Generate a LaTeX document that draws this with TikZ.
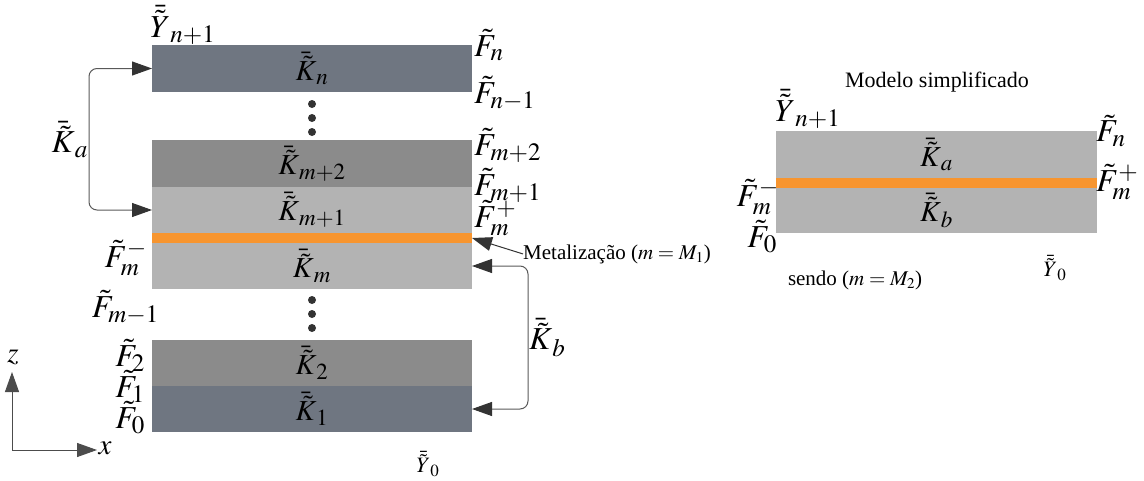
\documentclass[tikz,border=0pt]{standalone}
\usepackage{mathptmx}
\usepackage{fontspec}
\setmainfont{Liberation Serif}
\usepackage{xcolor}
\usepackage{tikz}
\usetikzlibrary{arrows.meta,positioning,calc}
\DeclareMathSizes{32}{32}{25}{19}
\DeclareMathSizes{29}{29}{23}{18}
\DeclareMathSizes{22}{22}{17}{13}
\DeclareMathSizes{21}{21}{15}{11}
\definecolor{layerSlate}{HTML}{6F7681}
\definecolor{layerMid}{HTML}{8B8B8B}
\definecolor{layerLight}{HTML}{B3B3B3}
\definecolor{metalOrange}{HTML}{F7952F}
\definecolor{inkDark}{HTML}{333333}

\begin{document}
\begin{tikzpicture}[
    x=1pt, y=-1pt,
    font=\fontsize{21}{24}\selectfont,
    layer/.style={minimum width=320pt, inner sep=0pt, outer sep=0pt, draw=none,
      font=\fontsize{29}{30}\selectfont},
    metal/.style={layer, fill=metalOrange, minimum height=10pt},
    mlab/.style={inner sep=1pt, font=\fontsize{32}{34}\selectfont},
    small/.style={inner sep=1pt, font=\fontsize{22}{24}\selectfont},
    bracket/.style={draw=black!65, line width=1pt, rounded corners=8pt,
      {Triangle[length=20pt,width=14pt,color=inkDark]}-{Triangle[length=20pt,width=14pt,color=inkDark]}},
    pointer/.style={draw=inkDark, line width=1pt, -{Triangle[length=20pt,width=14pt]}},
    dot/.style={circle, fill=inkDark, inner sep=0pt, minimum size=8pt}
  ]
    \useasboundingbox (0,0) rectangle (1144,480);

    % full stack
    \node[layer, fill=layerSlate, minimum height=47pt] (Kn) at (312,68.5) {$\bar{\tilde{K}}_n$};
    \node[layer, fill=layerMid, minimum height=47pt] (Km2) at (312,163.5) {$\bar{\tilde{K}}_{m+2}$};
    \node[layer, fill=layerLight, minimum height=46pt] (Km1) at (312,210) {$\bar{\tilde{K}}_{m+1}$};
    \node[metal] (metL) at (312,238) {};
    \node[layer, fill=layerLight, minimum height=46pt] (Km) at (312,266) {$\bar{\tilde{K}}_m$};
    \node[layer, fill=layerMid, minimum height=46pt] (K2) at (312,363) {$\bar{\tilde{K}}_2$};
    \node[layer, fill=layerSlate, minimum height=46pt] (K1) at (312,409) {$\bar{\tilde{K}}_1$};

    \foreach \y [count=\i] in {104,118,132} \node[dot] (dtop\i) at (312,\y) {};
    \foreach \y [count=\i] in {300,314,328} \node[dot] (dbot\i) at (312,\y) {};

    \node[mlab, anchor=base west] (Ytop) at (149,37) {$\bar{\tilde{Y}}_{n+1}$};
    \node[mlab, anchor=base west] (Fn) at (473,56) {$\tilde{F}_n$};
    \node[mlab, anchor=base west] (Fn1) at (473,103) {$\tilde{F}_{n-1}$};
    \node[mlab, anchor=base west] (Fm2) at (473,155) {$\tilde{F}_{m+2}$};
    \node[mlab, anchor=base west] (Fm1) at (473,195) {$\tilde{F}_{m+1}$};
    \node[mlab, anchor=west] (Fmp) at (473,218) {$\tilde{F}_m^{+}$};
    \node[mlab, anchor=east] (Fmm) at (148,258) {$\tilde{F}_m^{-}$};
    \node[mlab, anchor=base east] (Fmm1) at (160,317) {$\tilde{F}_{m-1}$};
    \node[mlab, anchor=base east] (F2) at (146,366) {$\tilde{F}_2$};
    \node[mlab, anchor=base east] (F1) at (146,397) {$\tilde{F}_1$};
    \node[mlab, anchor=base east] (F0) at (146,428) {$\tilde{F}_0$};
    \node[small] (Ybot) at (428,464) {$\bar{\tilde{Y}}_0$};

    \draw[bracket] (Kn.west) -- ++(-63pt,0) |- (Km1.west);
    \node[mlab, anchor=east] (Ka) at ($(Kn.west)!0.5!(Km1.west)+(-63pt,0)$) {$\bar{\tilde{K}}_a$};
    \draw[bracket] (Km.east) -- ++(56pt,0) |- (K1.east);
    \node[mlab, anchor=west] (Kb) at ($(Km.east)!0.5!(K1.east)+(56pt,0)$) {$\bar{\tilde{K}}_b$};

    \node[anchor=base west, inner sep=0pt] (metTxt) at (523,259) {Metalização ($m = M_1$)};
    \draw[pointer] (metTxt.west) -- (metL.east);

    % axes
    \coordinate (O) at (12,450);
    \coordinate (zEnd) at (12,372);
    \coordinate (xEnd) at (97,450);
    \draw[pointer, draw=black!70] (O) -- (zEnd);
    \draw[pointer, draw=black!70] (O) -- (xEnd);
    \node[mlab, font=\fontsize{29}{30}\selectfont] (zLab) at (13,357) {$z$};
    \node[mlab, font=\fontsize{29}{30}\selectfont] (xLab) at (105,448) {$x$};

    % simplified model
    \node[font=\fontsize{22}{24}\selectfont] (title) at (937,82) {Modelo simplificado};
    \node[layer, fill=layerLight, minimum width=321pt, minimum height=47pt] (Ka2) at (936.5,154.5) {$\bar{\tilde{K}}_a$};
    \node[metal, minimum width=321pt] (metR) at (936.5,183) {};
    \node[layer, fill=layerLight, minimum width=321pt, minimum height=45pt] (Kb2) at (936.5,210.5) {$\bar{\tilde{K}}_b$};

    \node[mlab, anchor=base west] (Ytop2) at (774,121) {$\bar{\tilde{Y}}_{n+1}$};
    \node[mlab, anchor=west] (Fn2) at (1095,131) {$\tilde{F}_n$};
    \node[mlab, anchor=west] (Fmp2) at (1095,182) {$\tilde{F}_m^{+}$};
    \node[mlab, anchor=east] (Fmm2) at (780,197) {$\tilde{F}_m^{-}$};
    \node[mlab, anchor=east] (F02) at (778,237) {$\tilde{F}_0$};
    \node (sendo) at (855,280) {sendo ($m = M_2$)};
    \node[small] (Ybot2) at (1055,268) {$\bar{\tilde{Y}}_0$};
\end{tikzpicture}
\end{document}
